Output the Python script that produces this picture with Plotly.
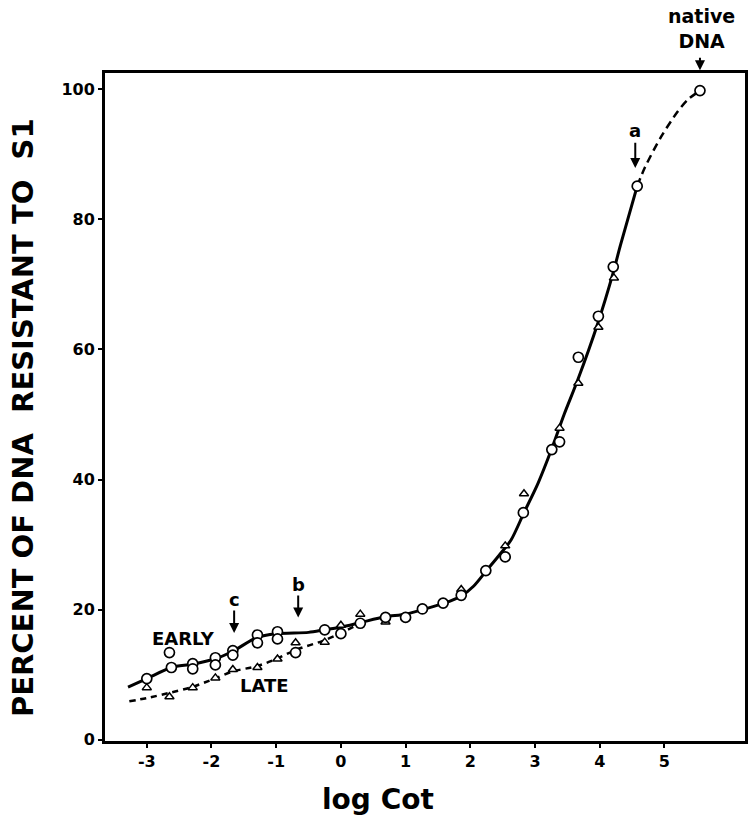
import plotly.graph_objects as go

# ---- data ----
early_x = [-3.0, -2.62, -2.65, -2.29, -2.29, -1.94, -1.94, -1.67, -1.67, -1.29, -1.29,
           -0.98, -0.98, -0.70, -0.25, 0.0, 0.30, 0.69, 1.0, 1.26, 1.58, 1.86, 2.24,
           2.54, 2.82, 3.26, 3.38, 3.67, 3.98, 4.21, 4.58, 5.55]
early_y = [9.4, 11.1, 13.4, 11.7, 10.9, 12.6, 11.5, 13.7, 13.0, 16.1, 14.9,
           16.6, 15.5, 13.4, 16.9, 16.3, 17.9, 18.8, 18.8, 20.1, 21.0, 22.2, 26.0,
           28.1, 34.9, 44.6, 45.8, 58.8, 65.1, 72.7, 85.1, 99.8]

late_x = [-3.0, -2.65, -2.29, -1.94, -1.67, -1.29, -0.98, -0.70, -0.25, 0.0, 0.30,
          0.69, 1.0, 1.26, 1.58, 1.86, 2.24, 2.54, 2.83, 3.38, 3.67, 3.98, 4.22]
late_y = [8.0, 6.6, 8.0, 9.5, 10.8, 11.1, 12.4, 14.9, 15.0, 17.6, 19.3,
          18.1, 18.8, 20.1, 21.0, 23.1, 26.0, 29.8, 37.8, 47.9, 54.8, 63.4, 71.0]

# fitted curves
early_curve_x = [-3.29, -3.0, -2.62, -2.3, -1.95, -1.67, -1.3, -1.0, -0.5, -0.25, 0.0,
                 0.3, 0.68, 1.0, 1.3, 1.6, 1.86, 2.05, 2.25, 2.45, 2.63, 2.83, 3.05,
                 3.25, 3.45, 3.66, 3.97, 4.2, 4.32, 4.58]
early_curve_y = [8.1, 9.4, 11.1, 11.6, 12.4, 13.6, 15.7, 16.3, 16.5, 16.9, 17.3,
                 18.0, 18.9, 19.3, 20.1, 21.0, 22.1, 23.6, 26.0, 28.4, 30.7, 34.9, 39.5,
                 44.5, 50.0, 55.3, 64.0, 71.5, 76.0, 85.1]

native_curve_x = [4.58, 4.7, 4.95, 5.2, 5.35, 5.55]
native_curve_y = [85.1, 88.0, 92.7, 96.5, 98.3, 99.8]

late_curve_x = [-3.27, -3.0, -2.65, -2.3, -1.95, -1.67, -1.3, -1.0, -0.7, -0.25, 0.0, 0.3]
late_curve_y = [5.9, 6.4, 7.2, 8.1, 9.4, 10.5, 11.3, 12.4, 13.8, 15.3, 16.4, 17.9]

x_ticks = [-3, -2, -1, 0, 1, 2, 3, 4, 5]
y_ticks = [0, 20, 40, 60, 80, 100]

WIDE = "DejaVu Sans"

fig = go.Figure()

fig.add_trace(go.Scatter(x=early_curve_x, y=early_curve_y, mode="lines",
                         line=dict(color="black", width=3, shape="spline", smoothing=0.8),
                         hoverinfo="skip", showlegend=False))
fig.add_trace(go.Scatter(x=native_curve_x, y=native_curve_y, mode="lines",
                         line=dict(color="black", width=2.5, dash="8px,5px",
                                   shape="spline", smoothing=0.8),
                         hoverinfo="skip", showlegend=False))
fig.add_trace(go.Scatter(x=late_curve_x, y=late_curve_y, mode="lines",
                         line=dict(color="black", width=2.5, dash="6px,5px",
                                   shape="spline", smoothing=0.8),
                         hoverinfo="skip", showlegend=False))

fig.add_trace(go.Scatter(x=late_x, y=late_y, mode="markers", name="LATE",
                         marker=dict(symbol="triangle-up", size=8, color="white",
                                     line=dict(color="black", width=1.5)),
                         showlegend=False, cliponaxis=False))
fig.add_trace(go.Scatter(x=early_x, y=early_y, mode="markers", name="EARLY",
                         marker=dict(symbol="circle", size=10, color="white",
                                     line=dict(color="black", width=1.7)),
                         showlegend=False, cliponaxis=False))

bold = dict(family=WIDE, size=18, color="black")
annos = []
annos.append(dict(x=-2.43, y=15.5, text="<b>EARLY</b>", showarrow=False, font=bold))
annos.append(dict(x=-1.18, y=8.4, text="<b>LATE</b>", showarrow=False, font=bold))
# labelled arrows
for lab, xx, ty, y0, y1 in [("c", -1.65, 21.6, 20.1, 16.4),
                            ("b", -0.66, 23.9, 22.4, 18.8),
                            ("a", 4.55, 93.6, 92.0, 87.9)]:
    annos.append(dict(x=xx, y=ty, text=f"<b>{lab}</b>", showarrow=False, font=bold))
    annos.append(dict(x=xx, y=y1, ax=xx, ay=y0, axref="x", ayref="y", text="",
                      showarrow=True, arrowhead=2, arrowsize=1, arrowwidth=2,
                      arrowcolor="black"))
annos.append(dict(x=5.58, y=1.067, xref="x", yref="paper", text="<b>native<br>DNA</b>",
                  showarrow=False, yanchor="middle",
                  font=dict(family=WIDE, size=19, color="black")))
annos.append(dict(x=5.55, y=1.004, xref="x", yref="paper", ax=0, ay=-14, text="",
                  showarrow=True, arrowhead=2, arrowsize=1, arrowwidth=2,
                  arrowcolor="black"))
# axis titles
annos.append(dict(x=0.57, y=-0.088, xref="x", yref="paper", text="<b>log Cot</b>",
                  showarrow=False, xanchor="center", yanchor="middle",
                  font=dict(family=WIDE, size=28, color="black")))
annos.append(dict(x=-0.128, y=0.4835, xref="paper", yref="paper",
                  text="<b>PERCENT OF DNA&nbsp;&nbsp;RESISTANT TO&nbsp;&nbsp;S1</b>",
                  textangle=-90, showarrow=False, xanchor="center", yanchor="middle",
                  font=dict(family=WIDE, size=29, color="black")))

fig.update_layout(
    width=750, height=825,
    margin=dict(l=105, r=2, t=73, b=84),
    paper_bgcolor="white", plot_bgcolor="white",
    annotations=annos,
    xaxis=dict(range=[-3.646, 6.246], tickvals=x_ticks,
               ticktext=[f"<b>{v}</b>" for v in x_ticks],
               showgrid=False, zeroline=False, showline=True, mirror=True,
               linecolor="black", linewidth=3, ticks="outside", ticklen=4, tickwidth=2,
               tickcolor="black",
               tickfont=dict(family=WIDE, size=16, color="black"), fixedrange=True),
    yaxis=dict(range=[-0.2, 102.5], tickvals=y_ticks,
               ticktext=[f"<b>{v}</b>" for v in y_ticks],
               showgrid=False, zeroline=False, showline=True, mirror=True,
               linecolor="black", linewidth=3, ticks="outside", ticklen=4, tickwidth=2,
               tickcolor="black",
               tickfont=dict(family=WIDE, size=16, color="black"), fixedrange=True),
)

fig.write_html("out.html")
